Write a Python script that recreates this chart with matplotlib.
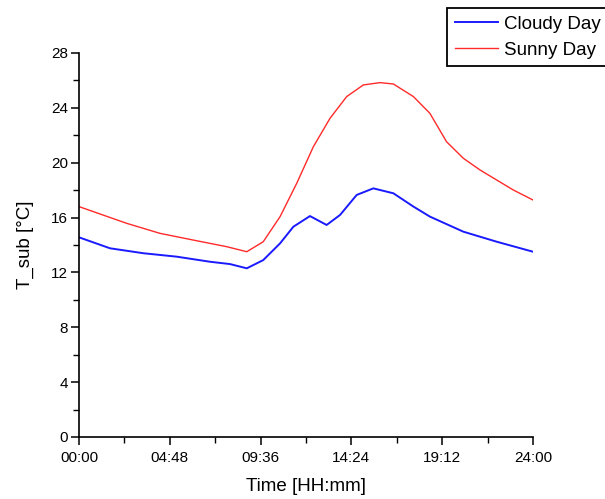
import numpy as np
import matplotlib
matplotlib.use('Agg')
import matplotlib.pyplot as plt
from matplotlib.ticker import FuncFormatter, MultipleLocator

plt.rcParams['font.family'] = ['Liberation Sans', 'DejaVu Sans']

# hours of day
cloudy_h = [0.0, 1.64, 3.4, 5.16, 6.92, 7.98, 8.87, 9.74, 10.63, 11.33, 12.21,
            13.09, 13.8, 14.68, 15.56, 16.62, 17.68, 18.55, 20.32, 22.08, 24.0]
cloudy_t = [14.56, 13.76, 13.4, 13.15, 12.78, 12.61, 12.3, 12.9, 14.12, 15.33, 16.11,
            15.46, 16.19, 17.65, 18.13, 17.77, 16.8, 16.07, 14.97, 14.24, 13.51]

sunny_h = [0.0, 2.52, 4.28, 6.04, 7.8, 8.87, 9.74, 10.63, 11.51, 12.39, 13.27,
           14.15, 15.03, 15.91, 16.62, 17.68, 18.55, 19.43, 20.32, 21.2, 22.08, 22.96, 24.0]
sunny_t = [16.8, 15.58, 14.85, 14.36, 13.88, 13.51, 14.24, 16.07, 18.5, 21.17, 23.24,
           24.82, 25.67, 25.84, 25.74, 24.82, 23.6, 21.53, 20.32, 19.47, 18.74, 18.01, 17.28]

fig = plt.figure(figsize=(6.05, 4.99), dpi=100)
ax = fig.add_axes([79/605, 62/499, 454/605, 384/499])

ax.plot(cloudy_h, cloudy_t, c='#1a1aff', lw=1.4, label='Cloudy Day')
ax.plot(sunny_h, sunny_t, c='#ff2a2a', lw=1.0, label='Sunny Day')

ax.set_xlim(0, 24)
ax.set_ylim(0, 28)
ax.xaxis.set_major_locator(MultipleLocator(4.8))
ax.xaxis.set_minor_locator(MultipleLocator(2.4))
ax.yaxis.set_major_locator(MultipleLocator(4))
ax.yaxis.set_minor_locator(MultipleLocator(2))

def hhmm(x, pos):
    m = int(round(x * 60))
    return '{:02d}:{:02d}'.format(m // 60, m % 60)

ax.xaxis.set_major_formatter(FuncFormatter(hhmm))
ax.tick_params(axis='both', which='major', length=6, width=1.1, labelsize=11, direction='out')
ax.tick_params(axis='both', which='minor', length=4, width=1.0, direction='out')
ax.tick_params(axis='x', which='major', pad=4)
ax.tick_params(axis='y', which='major', pad=2)

for spi in ['top', 'right']:
    ax.spines[spi].set_visible(False)
for spi in ['bottom', 'left']:
    ax.spines[spi].set_linewidth(1.2)

ax.set_xlabel('Time [HH:mm]', fontsize=13.5)
ax.set_ylabel('T_sub [°C]', fontsize=13.5)
ax.xaxis.set_label_coords(0.5, -0.108)
ax.yaxis.set_label_coords(-0.10, 0.5)

leg = fig.legend(loc='upper left', bbox_to_anchor=(447/605, 1 - 8/499), fontsize=13.5,
                 frameon=True, fancybox=False, edgecolor='k', framealpha=1,
                 handlelength=2.3, handletextpad=0.32, borderpad=0.42, labelspacing=0.45,
                 borderaxespad=0)
leg.get_frame().set_linewidth(1.3)

plt.savefig('out.png', dpi=100)
